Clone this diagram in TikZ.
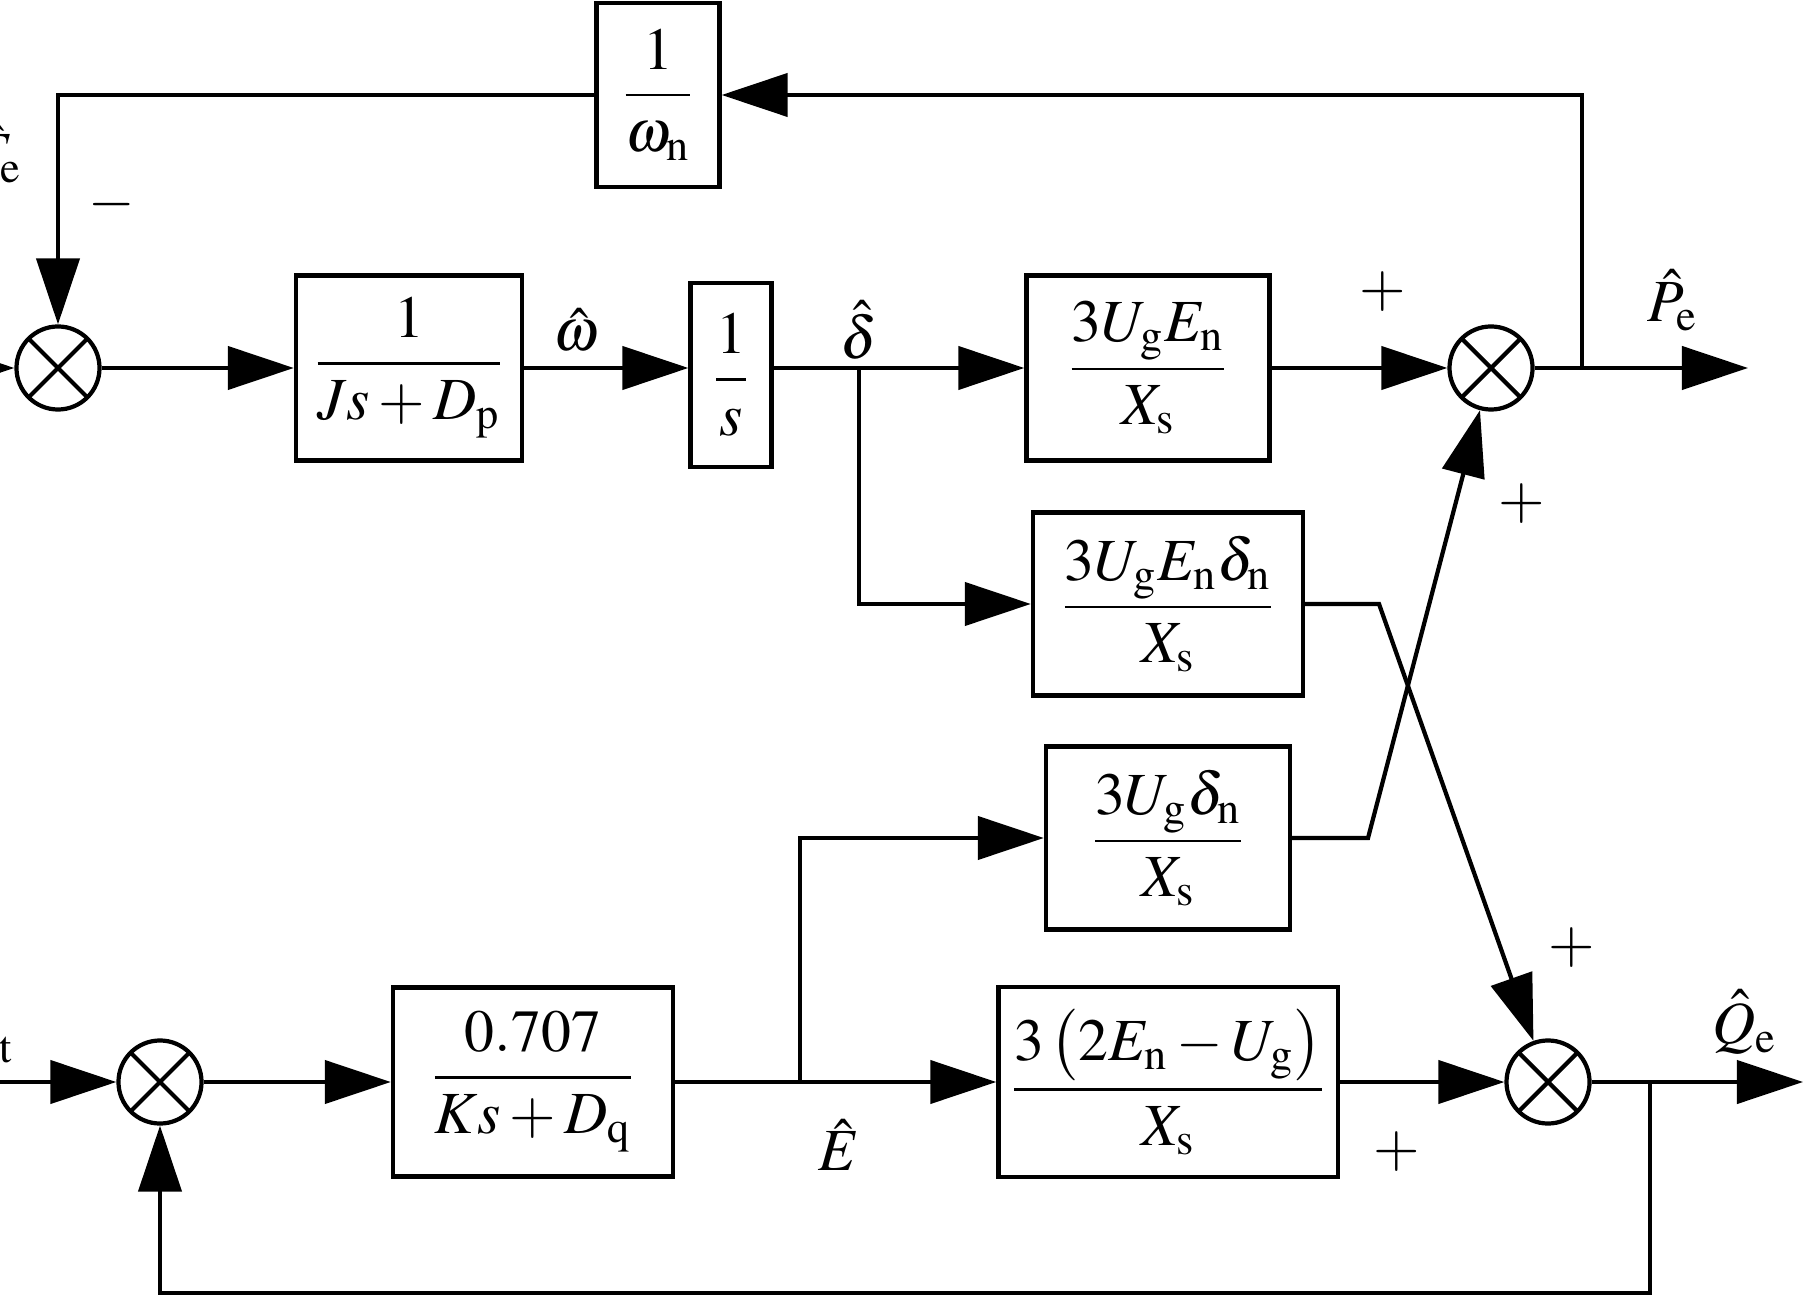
\documentclass[tikz,border=0pt]{standalone}
\usepackage{amsmath}
\usepackage{mathptmx}
\usepackage{fontspec}
\setmainfont{Liberation Serif}
\usepackage{tikz}
\usetikzlibrary{arrows.meta, positioning}

\begin{document}
\begin{tikzpicture}[x=0.01cm, y=-0.01cm,
    font=\fontsize{17}{20}\selectfont,
    line width=1.2pt,
    >={Triangle[length=6.6mm, width=4.3mm]},
    blk/.style={draw, inner sep=0pt},
    sumj/.style={draw, circle, minimum size=0.83cm, inner sep=0pt,
        path picture={\draw (path picture bounding box.north west) -- (path picture bounding box.south east)
            (path picture bounding box.north east) -- (path picture bounding box.south west);}},
    sgn/.style={inner sep=0pt}]
    \useasboundingbox (0,0) rectangle (1807,1298);
    % summing junctions
    \node[sumj] (s1) at (58,368) {};
    \node[sumj] (sP) at (1491,368) {};
    \node[sumj] (s2) at (160,1082) {};
    \node[sumj] (sQ) at (1548,1082) {};
    % blocks
    \node[blk, minimum width=1.23cm, minimum height=1.84cm] (wb) at (658,95) {$\dfrac{1}{\omega_{\mathrm{n}}}$};
    \node[blk, minimum width=2.26cm, minimum height=1.85cm] (jb) at (409,368) {$\dfrac{1}{Js+D_{\mathrm{p}}}$};
    \node[blk, minimum width=0.81cm, minimum height=1.84cm] (ib) at (731,375) {$\dfrac{1}{s}$};
    \node[blk, minimum width=2.43cm, minimum height=1.85cm] (pb) at (1148,368) {$\dfrac{3U_{\mathrm{g}}E_{\mathrm{n}}}{X_{\mathrm{s}}}$};
    \node[blk, minimum width=2.70cm, minimum height=1.83cm] (db) at (1168,604) {$\dfrac{3U_{\mathrm{g}}E_{\mathrm{n}}\delta_{\mathrm{n}}}{X_{\mathrm{s}}}$};
    \node[blk, minimum width=2.44cm, minimum height=1.83cm] (ub) at (1168,838) {$\dfrac{3U_{\mathrm{g}}\delta_{\mathrm{n}}}{X_{\mathrm{s}}}$};
    \node[blk, minimum width=2.80cm, minimum height=1.89cm] (kb) at (533,1082) {$\dfrac{0.707}{Ks+D_{\mathrm{q}}}$};
    \node[blk, minimum width=3.39cm, minimum height=1.90cm] (qb) at (1168,1082) {$\dfrac{3\left(2E_{\mathrm{n}}-U_{\mathrm{g}}\right)}{X_{\mathrm{s}}}$};
    % branch points and free ends
    \coordinate (in1) at (-80,368);
    \coordinate (in2) at (-80,1082);
    \coordinate (bP) at (1582,368);
    \coordinate (oP) at (1748,368);
    \coordinate (bd) at (859,368);
    \coordinate (bE) at (800,1082);
    \coordinate (bQ) at (1650,1082);
    \coordinate (oQ) at (1803,1082);
    \coordinate (kd) at (1379,604);
    \coordinate (ku) at (1368,838);
    % connectors, upper loop
    \draw[->] (in1) -- (s1);
    \draw[->] (s1) -- (jb);
    \draw[->] (jb) -- (ib.west |- jb);
    \draw[->] (ib.east |- jb) -- (pb);
    \draw[->] (pb) -- (sP);
    \draw[->] (sP) -- (oP);
    \draw[->] (bP) |- (wb);
    \draw[->] (wb) -| (s1);
    \draw[->] (bd) |- (db);
    \draw[->] (db) -- (kd) -- (sQ);
    % connectors, lower loop
    \draw[->] (in2) -- (s2);
    \draw[->] (s2) -- (kb);
    \draw[->] (kb) -- (qb);
    \draw[->] (bE) |- (ub);
    \draw[->] (ub) -- (ku) -- (sP);
    \draw[->] (qb) -- (sQ);
    \draw[->] (sQ) -- (oQ);
    \draw[->] (bQ) |- (160,1293) -- (s2);
    % signals and signs
    \node (lw) at (576,330) {$\hat{\omega}$};
    \node (ld) at (859,330) {$\hat{\delta}$};
    \node (lP) at (1673,300) {$\hat{P}_{\mathrm{e}}$};
    \node (lQ) at (1745,1022) {$\hat{Q}_{\mathrm{e}}$};
    \node (lE) at (839,1145) {$\hat{E}$};
    \node[anchor=east] (lT) at (36,152) {$\hat{T}_{\mathrm{e}}$};
    \node[anchor=base east] (lS) at (27,1054) {$\hat{Q}_{\mathrm{set}}$};
    \node[sgn] (m1) at (112,205) {$-$};
    \node[sgn] (p1) at (1383,292) {$+$};
    \node[sgn] (p2) at (1522,504) {$+$};
    \node[sgn] (p3) at (1572,948) {$+$};
    \node[sgn] (p4) at (1397,1152) {$+$};
\end{tikzpicture}
\end{document}
